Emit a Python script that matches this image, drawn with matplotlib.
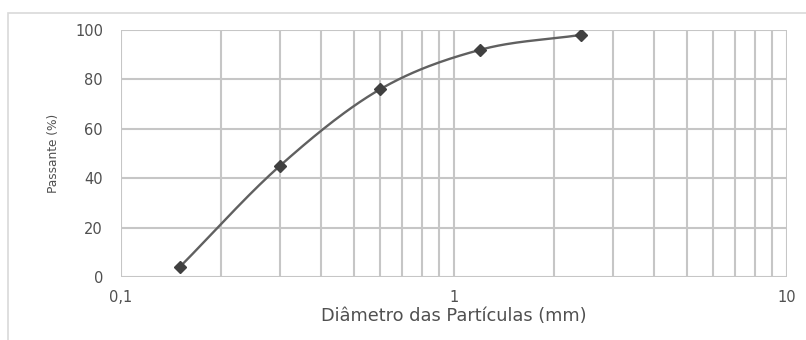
import os
import numpy as np
import matplotlib
matplotlib.use("Agg")
import matplotlib.pyplot as plt
import matplotlib.font_manager as fm
from matplotlib.patches import Rectangle
from matplotlib.ticker import FixedLocator, NullFormatter

# Particle size distribution (sieve analysis)
diametro_mm = [0.15, 0.3, 0.6, 1.2, 2.4]
passante_pct = [4, 45, 76, 92, 98]

y_ticks = [0, 20, 40, 60, 80, 100]
x_major = [0.1, 1, 10]
x_major_labels = ["0,1", "1", "10"]


def font_from_file(filename, size):
    for f in fm.fontManager.ttflist:
        if os.path.basename(f.fname) == filename:
            return fm.FontProperties(fname=f.fname, size=size)
    return fm.FontProperties(family="DejaVu Sans", size=size)


fp_tick = font_from_file("DejaVuSans.ttf", 10.5)
fp_xlab = font_from_file("DejaVuSans.ttf", 12.8)
fp_ylab = font_from_file("DejaVuSansCondensed.ttf", 9.7)

fig = plt.figure(figsize=(8.06, 3.40), dpi=100)
fig.patch.set_facecolor("white")

# light outer chart frame
fig.add_artist(Rectangle((8 / 806, -0.1), 1.2, 1.1 - 13 / 340, transform=fig.transFigure,
                         fill=False, edgecolor="#d9d9d9", linewidth=1.2, clip_on=False))

ax = fig.add_axes([121 / 806, 1 - 277 / 340, (787 - 121) / 806, (277 - 30) / 340])
ax.set_xscale("log")
ax.set_xlim(0.1, 10)
ax.set_ylim(0, 100)

grid_c = "#c6c6c6"
ax.xaxis.set_major_locator(FixedLocator(x_major))
ax.xaxis.set_minor_locator(FixedLocator([m * d for d in (0.1, 1) for m in range(2, 10)]))
ax.xaxis.set_minor_formatter(NullFormatter())
ax.set_xticks(x_major)
ax.set_xticklabels(x_major_labels)
ax.set_yticks(y_ticks)
ax.grid(True, which="both", axis="x", color=grid_c, linewidth=1.5)
ax.grid(True, which="major", axis="y", color=grid_c, linewidth=1.5)
ax.set_axisbelow(True)
for s in ax.spines.values():
    s.set_visible(False)
ax.tick_params(which="both", length=0)
ax.tick_params(axis="x", pad=9, colors="#505050")
ax.tick_params(axis="y", pad=13, colors="#505050")
for lab in ax.get_xticklabels() + ax.get_yticklabels():
    lab.set_fontproperties(fp_tick)

# smooth curve: Catmull-Rom spline through the points in log-x space
lx = np.log10(diametro_mm)
yy = np.array(passante_pct, dtype=float)
px = np.concatenate([[2 * lx[0] - lx[1]], lx, [2 * lx[-1] - lx[-2]]])
py = np.concatenate([[2 * yy[0] - yy[1]], yy, [2 * yy[-1] - yy[-2]]])
cx, cy = [], []
t = np.linspace(0, 1, 40)
for i in range(1, len(px) - 2):
    p0, p1, p2, p3 = (np.array([px[j], py[j]]) for j in range(i - 1, i + 3))
    seg = 0.5 * ((2 * p1)[:, None] + (-p0 + p2)[:, None] * t
                 + (2 * p0 - 5 * p1 + 4 * p2 - p3)[:, None] * t ** 2
                 + (-p0 + 3 * p1 - 3 * p2 + p3)[:, None] * t ** 3)
    cx.extend(seg[0]); cy.extend(seg[1])
ax.plot(10 ** np.array(cx), cy, color="#606060", linewidth=1.7, zorder=3)
ax.plot(diametro_mm, passante_pct, linestyle="none", marker="D", markersize=6.5,
        color="#404040", zorder=4)

ax.set_xlabel("Diâmetro das Partículas (mm)", fontproperties=fp_xlab,
              color="#505050", labelpad=2)
ax.set_ylabel("Passante (%)", fontproperties=fp_ylab, color="#505050", labelpad=11)

fig.savefig("out.png", dpi=100, facecolor="white")
